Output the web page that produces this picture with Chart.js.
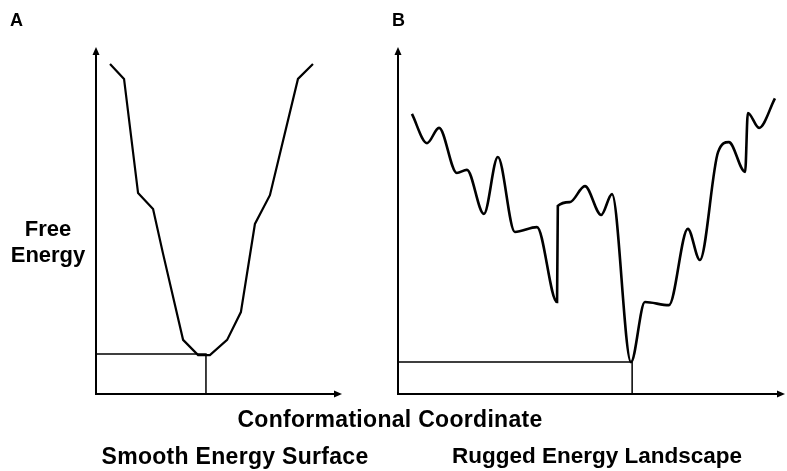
<!DOCTYPE html>
<html>
<head>
<meta charset="utf-8">
<script src="https://cdn.jsdelivr.net/npm/chart.js@4"></script>
<style>
  html, body { margin: 0; padding: 0; background: #fff; }
  #wrap { position: relative; width: 787px; height: 471px; overflow: hidden; }
  #wrap canvas { position: absolute; left: 0; top: 0; }
  .lbl { position: absolute; font-family: "Liberation Sans", Arial, sans-serif; font-weight: bold; color: #000; white-space: nowrap; }
  .big { font-size: 23px; line-height: 23px; letter-spacing: 0.3px; }
  .panel { font-size: 18px; line-height: 18px; }
</style>
</head>
<body>
<div id="wrap">
  <canvas id="chartA" width="787" height="471"></canvas>
  <canvas id="chartB" width="787" height="471"></canvas>
  <div class="lbl panel" style="left:10px; top:11px;">A</div>
  <div class="lbl panel" style="left:392px; top:11px;">B</div>
  <div class="lbl big" style="left:0; width:96px; text-align:center; top:217px; font-size:22px; letter-spacing:0;">Free<br><span style="position:relative; top:3px;">Energy</span></div>
  <div class="lbl big" style="left:190px; width:400px; text-align:center; top:408px;">Conformational Coordinate</div>
  <div class="lbl big" style="left:85px; width:300px; text-align:center; top:445px;">Smooth Energy Surface</div>
  <div class="lbl big" style="left:447px; width:300px; text-align:center; top:444px; font-size:22.5px; letter-spacing:0;">Rugged Energy Landscape</div>
</div>
<script>
// Panel A - smooth surface (conformational coordinate 0-100, free energy 0-100)
const smoothX = [5.7, 11.4, 17.1, 23.2, 27.2, 35.4, 41.5, 46.3, 53.3, 58.9, 64.6, 70.7, 82.1, 88.2];
const smoothY = [95.1, 90.8, 57.9, 53.3, 40.6, 15.6, 11.2, 11.2, 15.6, 23.6, 49.0, 57.3, 90.8, 95.1];
const smoothMin = [44.7, 11.5];

// Panel B - rugged landscape
const ruggedX = [3.6, 7.5, 10.6, 15.2, 17.8, 22.2, 25.8, 30.2, 35.9, 41.1, 41.3, 44.4, 48.3, 52.5, 55.3,
                 60.2, 63.8, 70.0, 74.9, 78.0, 82.7, 85.5, 89.7, 90.4, 93.3, 97.4];
const ruggedY = [80.7, 72.3, 76.7, 63.7, 64.6, 51.9, 68.3, 46.7, 48.1, 26.5, 54.2, 55.3, 59.9, 51.6, 57.6,
                 9.2, 26.5, 25.6, 47.6, 38.6, 69.7, 72.6, 64.0, 81.0, 76.7, 85.2];
const ruggedMin = [60.5, 9.2];

const toPoints = (xs, ys) => xs.map((x, i) => ({ x: x, y: ys[i] }));

// axes drawn as arrows
const arrowAxes = {
  id: 'arrowAxes',
  afterDraw(chart) {
    const { ctx, chartArea: a } = chart;
    ctx.save();
    ctx.strokeStyle = '#000';
    ctx.fillStyle = '#000';
    ctx.lineWidth = 2;
    ctx.beginPath();
    ctx.moveTo(a.left, a.top + 6);
    ctx.lineTo(a.left, a.bottom);
    ctx.lineTo(a.right - 6, a.bottom);
    ctx.stroke();
    // up arrow
    ctx.beginPath();
    ctx.moveTo(a.left, a.top);
    ctx.lineTo(a.left - 3.5, a.top + 8);
    ctx.lineTo(a.left + 3.5, a.top + 8);
    ctx.closePath();
    ctx.fill();
    // right arrow
    ctx.beginPath();
    ctx.moveTo(a.right, a.bottom);
    ctx.lineTo(a.right - 8, a.bottom - 3.5);
    ctx.lineTo(a.right - 8, a.bottom + 3.5);
    ctx.closePath();
    ctx.fill();
    ctx.restore();
  }
};

function makePanel(canvasId, pad, xs, ys, minPt, smooth) {
  const ctx = document.getElementById(canvasId).getContext('2d');
  return new Chart(ctx, {
    type: 'line',
    data: {
      datasets: [
        {
          data: toPoints(xs, ys),
          borderColor: '#000',
          borderWidth: smooth ? 2.2 : 2.6,
          pointRadius: 0,
          fill: false,
          tension: smooth ? 0 : 0.4,
          cubicInterpolationMode: smooth ? 'default' : 'monotone'
        },
        {
          data: [{ x: 0, y: minPt[1] }, { x: minPt[0], y: minPt[1] }, { x: minPt[0], y: 0 }],
          borderColor: '#000',
          borderWidth: 1.5,
          pointRadius: 0,
          fill: false,
          tension: 0
        }
      ]
    },
    options: {
      responsive: false,
      animation: false,
      devicePixelRatio: 1,
      layout: { padding: pad },
      plugins: { legend: { display: false }, tooltip: { enabled: false } },
      scales: {
        x: { type: 'linear', min: 0, max: 100, display: false },
        y: { type: 'linear', min: 0, max: 100, display: false }
      }
    },
    plugins: [arrowAxes]
  });
}

makePanel('chartA', { left: 96, right: 787 - 342, top: 47, bottom: 471 - 394 }, smoothX, smoothY, smoothMin, true);
makePanel('chartB', { left: 398, right: 2, top: 47, bottom: 471 - 394 }, ruggedX, ruggedY, ruggedMin, false);
</script>
</body>
</html>
